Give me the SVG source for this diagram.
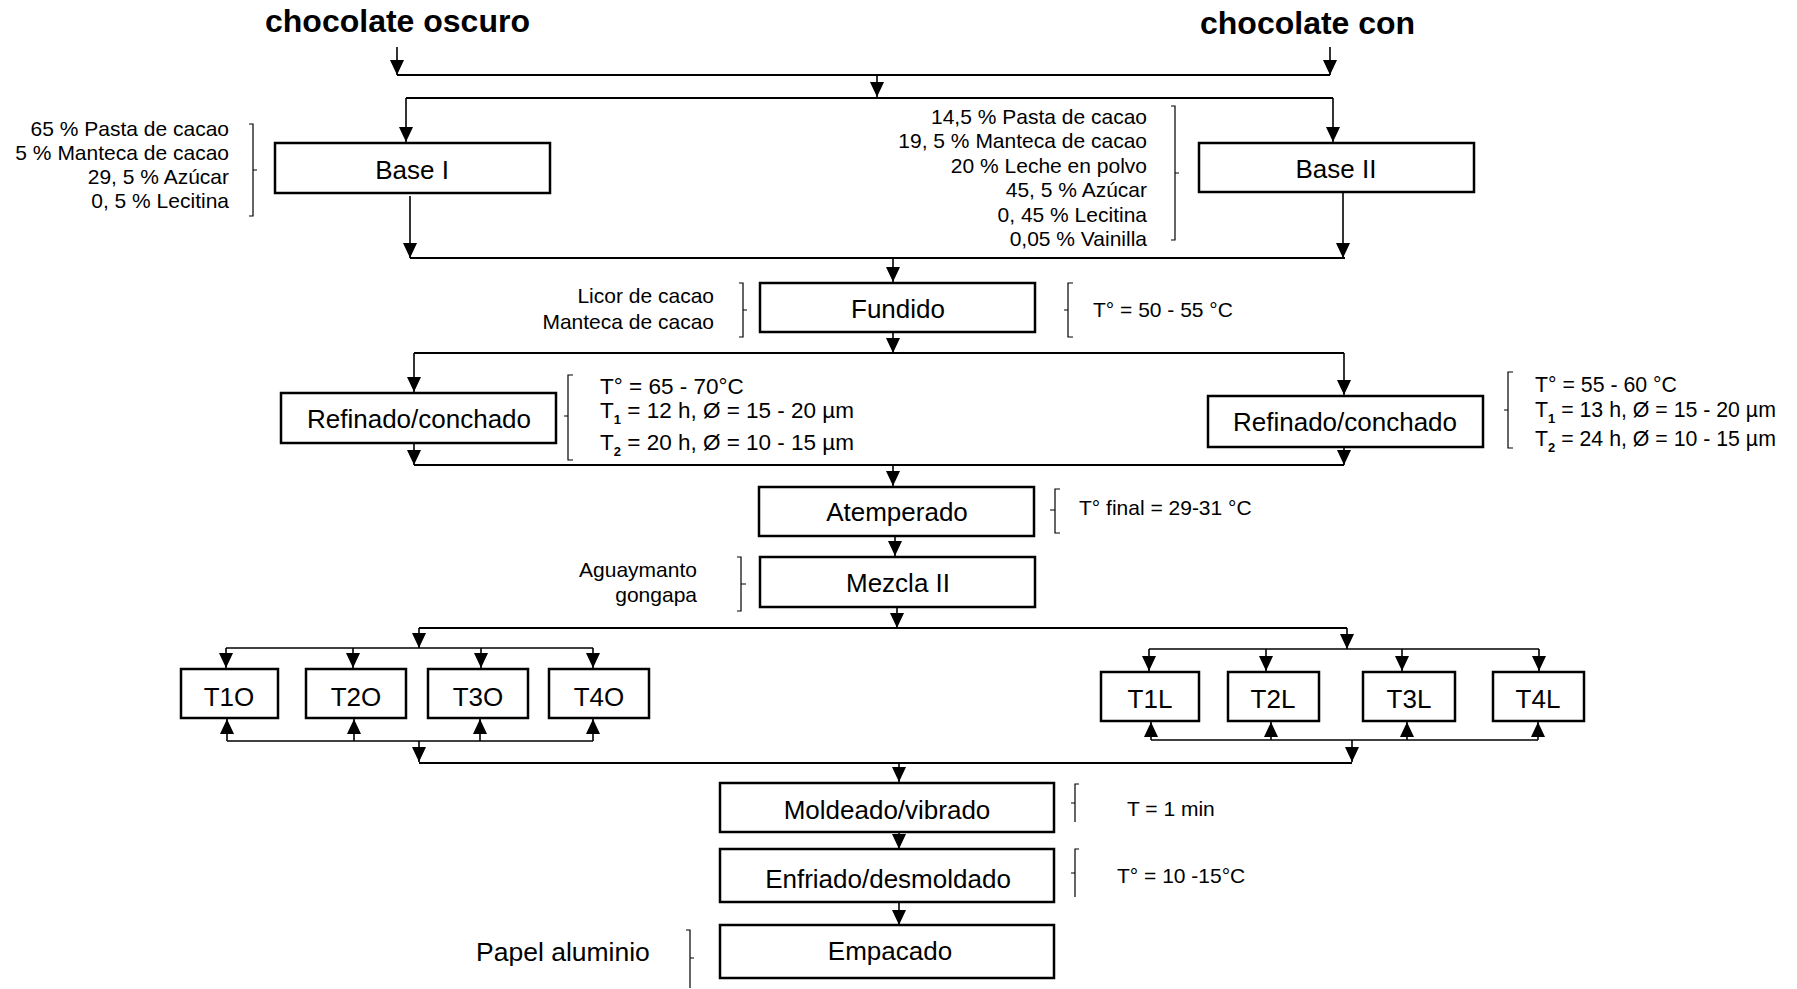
<svg xmlns="http://www.w3.org/2000/svg" width="1797" height="989" viewBox="0 0 1797 989">
<style>
text{font-family:"Liberation Sans",Arial,sans-serif;fill:#000}
.t{font-size:32px;font-weight:bold}
.b{font-size:26px;text-anchor:middle}
.a{font-size:21px}
.r{font-size:21px;text-anchor:end}
.s{font-size:13px;font-weight:bold}
.box{fill:#fff;stroke:#000;stroke-width:2.5}
.c{stroke:#000;stroke-width:1.6;fill:none}
.h{stroke:#000;stroke-width:2;fill:none}
.k{stroke:#000;stroke-width:1.2;fill:none}
</style>
<defs>
<marker id="ar" markerUnits="userSpaceOnUse" markerWidth="16" markerHeight="14" refX="15" refY="7" orient="auto">
<path d="M0,0 L15,7 L0,14 z" fill="#000"/>
</marker>
</defs>
<rect width="1797" height="989" fill="#fff"/>

<g id="connectors">
<line class="c" x1="397" y1="47" x2="397" y2="75" marker-end="url(#ar)"/>
<line class="c" x1="1330" y1="47" x2="1330" y2="75" marker-end="url(#ar)"/>
<line class="h" x1="397" y1="75" x2="1330" y2="75"/>
<line class="c" x1="877" y1="75" x2="877" y2="97" marker-end="url(#ar)"/>
<line class="h" x1="406" y1="98" x2="1333" y2="98"/>
<line class="c" x1="406" y1="98" x2="406" y2="142" marker-end="url(#ar)"/>
<line class="c" x1="1333" y1="98" x2="1333" y2="142" marker-end="url(#ar)"/>
<line class="c" x1="410" y1="196" x2="410" y2="258" marker-end="url(#ar)"/>
<line class="c" x1="1343" y1="193" x2="1343" y2="258" marker-end="url(#ar)"/>
<line class="h" x1="410" y1="258" x2="1345" y2="258"/>
<line class="c" x1="893" y1="258" x2="893" y2="282" marker-end="url(#ar)"/>
<line class="c" x1="893" y1="333" x2="893" y2="353" marker-end="url(#ar)"/>
<line class="h" x1="414" y1="353" x2="1344" y2="353"/>
<line class="c" x1="414" y1="353" x2="414" y2="392" marker-end="url(#ar)"/>
<line class="c" x1="1344" y1="353" x2="1344" y2="395" marker-end="url(#ar)"/>
<line class="c" x1="414" y1="444" x2="414" y2="465" marker-end="url(#ar)"/>
<line class="c" x1="1344" y1="448" x2="1344" y2="465" marker-end="url(#ar)"/>
<line class="h" x1="414" y1="465" x2="1344" y2="465"/>
<line class="c" x1="893" y1="465" x2="893" y2="486" marker-end="url(#ar)"/>
<line class="c" x1="895" y1="537" x2="895" y2="556" marker-end="url(#ar)"/>
<line class="c" x1="897" y1="608" x2="897" y2="628" marker-end="url(#ar)"/>
<line class="h" x1="419" y1="628" x2="1347" y2="628"/>
<line class="c" x1="419" y1="628" x2="419" y2="648" marker-end="url(#ar)"/>
<line class="c" x1="1347" y1="628" x2="1347" y2="649" marker-end="url(#ar)"/>
<line class="c" x1="226" y1="648" x2="593" y2="648"/>
<line class="c" x1="226" y1="648" x2="226" y2="668" marker-end="url(#ar)"/>
<line class="c" x1="353" y1="648" x2="353" y2="668" marker-end="url(#ar)"/>
<line class="c" x1="481" y1="648" x2="481" y2="668" marker-end="url(#ar)"/>
<line class="c" x1="593" y1="648" x2="593" y2="668" marker-end="url(#ar)"/>
<line class="c" x1="1149" y1="649" x2="1539" y2="649"/>
<line class="c" x1="1149" y1="649" x2="1149" y2="671" marker-end="url(#ar)"/>
<line class="c" x1="1266" y1="649" x2="1266" y2="671" marker-end="url(#ar)"/>
<line class="c" x1="1402" y1="649" x2="1402" y2="671" marker-end="url(#ar)"/>
<line class="c" x1="1539" y1="649" x2="1539" y2="671" marker-end="url(#ar)"/>
<line class="c" x1="227" y1="741" x2="593" y2="741"/>
<line class="c" x1="227" y1="741" x2="227" y2="719" marker-end="url(#ar)"/>
<line class="c" x1="354" y1="741" x2="354" y2="719" marker-end="url(#ar)"/>
<line class="c" x1="480" y1="741" x2="480" y2="719" marker-end="url(#ar)"/>
<line class="c" x1="593" y1="741" x2="593" y2="719" marker-end="url(#ar)"/>
<line class="c" x1="419" y1="741" x2="419" y2="762" marker-end="url(#ar)"/>
<line class="c" x1="1151" y1="740" x2="1538" y2="740"/>
<line class="c" x1="1151" y1="740" x2="1151" y2="722" marker-end="url(#ar)"/>
<line class="c" x1="1271" y1="740" x2="1271" y2="722" marker-end="url(#ar)"/>
<line class="c" x1="1407" y1="740" x2="1407" y2="722" marker-end="url(#ar)"/>
<line class="c" x1="1538" y1="740" x2="1538" y2="722" marker-end="url(#ar)"/>
<line class="c" x1="1352" y1="740" x2="1352" y2="762" marker-end="url(#ar)"/>
<line class="h" x1="419" y1="763" x2="1352" y2="763"/>
<line class="c" x1="899" y1="763" x2="899" y2="782" marker-end="url(#ar)"/>
<line class="c" x1="899" y1="833" x2="899" y2="849" marker-end="url(#ar)"/>
<line class="c" x1="899" y1="903" x2="899" y2="925" marker-end="url(#ar)"/>
</g>

<g id="titles">
<text class="t" x="265" y="32">chocolate oscuro</text>
<text class="t" x="1200" y="34">chocolate con</text>
</g>

<g id="base1">
<rect class="box" x="275" y="143" width="275" height="50"/>
<text class="b" x="412" y="179">Base I</text>
</g>
<g id="base1-ingredients">
<path class="k" d="M249,124 H253 V216 H249 M253,170 H257"/>
<text class="r" x="229" y="136">65 % Pasta de cacao</text>
<text class="r" x="229" y="160">5 % Manteca de cacao</text>
<text class="r" x="229" y="184">29, 5 % Azúcar</text>
<text class="r" x="229" y="208">0, 5 % Lecitina</text>
</g>

<g id="base2">
<rect class="box" x="1199" y="143" width="275" height="49"/>
<text class="b" x="1336" y="178">Base II</text>
</g>
<g id="base2-ingredients">
<path class="k" d="M1171,106 H1175 V240 H1171 M1175,173 H1179"/>
<text class="r" x="1147" y="124">14,5 % Pasta de cacao</text>
<text class="r" x="1147" y="148">19, 5 % Manteca de cacao</text>
<text class="r" x="1147" y="173">20 % Leche en polvo</text>
<text class="r" x="1147" y="197">45, 5 % Azúcar</text>
<text class="r" x="1147" y="222">0, 45 % Lecitina</text>
<text class="r" x="1147" y="246">0,05 % Vainilla</text>
</g>

<g id="fundido">
<rect class="box" x="760" y="283" width="275" height="49"/>
<text class="b" x="898" y="318">Fundido</text>
</g>
<g id="fundido-in">
<path class="k" d="M739,283 H743 V337 H739 M743,310 H747"/>
<text class="r" x="714" y="303">Licor de cacao</text>
<text class="r" x="714" y="329">Manteca de cacao</text>
</g>
<g id="fundido-cond">
<path class="k" d="M1073,283 H1068 V337 H1073 M1068,310 H1064"/>
<text class="a" x="1093" y="317">T° = 50 - 55 °C</text>
</g>

<g id="refinado1">
<rect class="box" x="281" y="393" width="275" height="50"/>
<text class="b" x="419" y="428">Refinado/conchado</text>
</g>
<g id="refinado1-cond">
<path class="k" d="M573,375 H568 V460 H573 M568,416 H564"/>
<text class="a" x="600" y="394" style="font-size:22.5px">T° = 65 - 70°C</text>
<text class="a" x="600" y="418" style="font-size:22.5px">T<tspan class="s" dy="6">1</tspan><tspan dy="-6"> = 12 h, Ø = 15 - 20 µm</tspan></text>
<text class="a" x="600" y="450" style="font-size:22.5px">T<tspan class="s" dy="6">2</tspan><tspan dy="-6"> = 20 h, Ø = 10 - 15 µm</tspan></text>
</g>

<g id="refinado2">
<rect class="box" x="1208" y="396" width="275" height="51"/>
<text class="b" x="1345" y="431">Refinado/conchado</text>
</g>
<g id="refinado2-cond">
<path class="k" d="M1513,372 H1508 V448 H1513 M1508,410 H1504"/>
<text class="a" x="1535" y="392" style="font-size:21.3px">T° = 55 - 60 °C</text>
<text class="a" x="1535" y="417" style="font-size:21.3px">T<tspan class="s" dy="6">1</tspan><tspan dy="-6"> = 13 h, Ø = 15 - 20 µm</tspan></text>
<text class="a" x="1535" y="446" style="font-size:21.3px">T<tspan class="s" dy="6">2</tspan><tspan dy="-6"> = 24 h, Ø = 10 - 15 µm</tspan></text>
</g>

<g id="atemperado">
<rect class="box" x="759" y="487" width="275" height="49"/>
<text class="b" x="897" y="521">Atemperado</text>
</g>
<g id="atemperado-cond">
<path class="k" d="M1060,489 H1055 V533 H1060 M1055,510 H1050"/>
<text class="a" x="1079" y="515">T° final = 29-31 °C</text>
</g>

<g id="mezcla">
<rect class="box" x="760" y="557" width="275" height="50"/>
<text class="b" x="898" y="592">Mezcla II</text>
</g>
<g id="mezcla-in">
<path class="k" d="M737,557 H741 V611 H737 M741,584 H746"/>
<text class="r" x="697" y="577">Aguaymanto</text>
<text class="r" x="697" y="602">gongapa</text>
</g>

<g id="T1O"><rect class="box" x="181" y="669" width="97" height="49"/><text class="b" x="229" y="706">T1O</text></g>
<g id="T2O"><rect class="box" x="306" y="669" width="100" height="49"/><text class="b" x="356" y="706">T2O</text></g>
<g id="T3O"><rect class="box" x="428" y="669" width="100" height="49"/><text class="b" x="478" y="706">T3O</text></g>
<g id="T4O"><rect class="box" x="549" y="669" width="100" height="49"/><text class="b" x="599" y="706">T4O</text></g>

<g id="T1L"><rect class="box" x="1101" y="672" width="98" height="49"/><text class="b" x="1150" y="708">T1L</text></g>
<g id="T2L"><rect class="box" x="1228" y="672" width="91" height="49"/><text class="b" x="1273" y="708">T2L</text></g>
<g id="T3L"><rect class="box" x="1363" y="672" width="92" height="49"/><text class="b" x="1409" y="708">T3L</text></g>
<g id="T4L"><rect class="box" x="1493" y="672" width="91" height="49"/><text class="b" x="1538" y="708">T4L</text></g>

<g id="moldeado">
<rect class="box" x="720" y="783" width="334" height="49"/>
<text class="b" x="887" y="819">Moldeado/vibrado</text>
</g>
<g id="moldeado-cond">
<path class="k" d="M1079,784 H1075 V822 M1075,803 H1071"/>
<text class="a" x="1127" y="816">T = 1 min</text>
</g>

<g id="enfriado">
<rect class="box" x="720" y="849" width="334" height="53"/>
<text class="b" x="888" y="888">Enfriado/desmoldado</text>
</g>
<g id="enfriado-cond">
<path class="k" d="M1079,849 H1075 V897 M1075,873 H1071"/>
<text class="a" x="1117" y="883">T° = 10 -15°C</text>
</g>

<g id="empacado">
<rect class="box" x="720" y="925" width="334" height="53"/>
<text class="b" x="890" y="960">Empacado</text>
</g>
<g id="empacado-in">
<path class="k" d="M686,930 H690 V988 M690,958 H694"/>
<text class="a" x="476" y="961" style="font-size:26.5px">Papel aluminio</text>
</g>
</svg>
